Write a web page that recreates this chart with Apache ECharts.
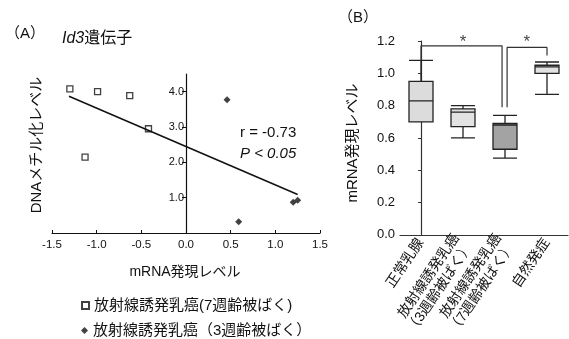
<!DOCTYPE html>
<html><head><meta charset="utf-8">
<script src="https://cdn.jsdelivr.net/npm/echarts@6/dist/echarts.min.js"></script>
<style>html,body{margin:0;padding:0;background:#fff}#c{width:569px;height:339px}</style>
</head><body><div id="c"></div>
<script>
// ---- Panel A data ----
const sq7X = [-1.30, -0.99, -0.63, -0.42, -1.13];
const sq7Y = [4.08, 4.00, 3.89, 2.95, 2.15];
const dm3X = [0.46, 0.59, 1.20, 1.25];
const dm3Y = [3.77, 0.32, 0.87, 0.93];
const fitX = [-1.31, 1.25];
const fitY = [3.87, 1.09];
const xTicksA = [-1.5, -1.0, -0.5, 0.0, 0.5, 1.0, 1.5];
const yTicksA = [1.0, 2.0, 3.0, 4.0];
const seriesNames = ['放射線誘発乳癌(7週齢被ばく)', '放射線誘発乳癌（3週齢被ばく）'];
// ---- Panel B data ----
const boxCats = ['正常乳腺', '放射線誘発乳癌\n（3週齢被ばく）', '放射線誘発乳癌\n（7週齢被ばく）', '自然発症'];
const boxMin = [0.70, 0.60, 0.475, 0.87];
const boxQ1 = [0.70, 0.67, 0.53, 1.00];
const boxMed = [0.83, 0.76, 0.68, 1.04];
const boxQ3 = [0.95, 0.78, 0.69, 1.05];
const boxMax = [1.08, 0.80, 0.74, 1.07];
const yTicksB = [0.0, 0.2, 0.4, 0.6, 0.8, 1.0, 1.2];
const bracket1X = [0, 0, 1.93, 1.93];
const bracket1Y = [1.08, 1.17, 1.17, 0.79];
const bracket2X = [2.05, 2.05, 3.0, 3.0];
const bracket2Y = [0.79, 1.16, 1.16, 1.11];
const starX = [1.0, 2.52];
const starY = [1.19, 1.19];

const FONT = "'Liberation Sans', 'Noto Sans CJK JP', sans-serif";
const boxFill = ['#dcdcdc', '#e2e2e2', '#a3a3a3', '#e2e2e2'];

const chart = echarts.init(document.getElementById('c'), null, {renderer: 'canvas'});
const zip = (a, b) => a.map((v, i) => [v, b[i]]);

const legendCommon = {
  orient: 'horizontal', left: 76, itemWidth: 7, itemHeight: 7, itemGap: 10,
  selectedMode: false, textStyle: {fontSize: 15, color: '#111', fontFamily: FONT}
};

chart.setOption({
  animation: false,
  textStyle: {fontFamily: FONT, color: '#111'},
  grid: [
    {left: 52, width: 268, top: 74, height: 159},
    {left: 400, width: 168, top: 41, height: 196}
  ],
  xAxis: [
    {gridIndex: 0, type: 'value', min: -1.5, max: 1.5, interval: 0.5,
     splitLine: {show: false},
     axisLine: {show: true, onZero: false, lineStyle: {color: '#111', width: 1.2}},
     axisTick: {show: true, inside: true, length: 3, lineStyle: {color: '#111'}},
     axisLabel: {fontSize: 11.5, color: '#111', margin: 6, fontFamily: FONT,
       formatter: v => v.toFixed(1)}},
    {gridIndex: 1, type: 'category', data: boxCats,
     axisLine: {show: true, onZero: false, lineStyle: {color: '#333', width: 1.2}},
     axisTick: {show: false},
     axisLabel: {interval: 0, rotate: 56, fontSize: 14, color: '#111', margin: 5, lineHeight: 16, fontFamily: FONT}},
    {gridIndex: 1, type: 'value', min: -0.5, max: 3.5, show: false}
  ],
  yAxis: [
    {gridIndex: 0, type: 'value', min: 0, max: 4.5, position: 'left', offset: -134,
     splitLine: {show: false},
     axisLine: {show: true, onZero: false, lineStyle: {color: '#111', width: 1.2}},
     axisTick: {show: true, length: 4, customValues: yTicksA, lineStyle: {color: '#111'}},
     axisLabel: {fontSize: 11, color: '#111', margin: 2, customValues: yTicksA, fontFamily: FONT,
       formatter: v => v.toFixed(1)}},
    {gridIndex: 1, type: 'value', min: 0, max: 1.2, interval: 0.2,
     splitLine: {show: false},
     axisLine: {show: true, lineStyle: {color: '#333', width: 1.2}},
     axisTick: {show: true, length: 3, lineStyle: {color: '#333'}},
     axisLabel: {fontSize: 13, color: '#111', margin: 5, fontFamily: FONT,
       formatter: v => v.toFixed(1)}}
  ],
  legend: [
    Object.assign({top: 293, data: [seriesNames[0]]}, legendCommon),
    Object.assign({top: 318, data: [seriesNames[1]]}, legendCommon)
  ],
  series: [
    {name: seriesNames[0], type: 'scatter', xAxisIndex: 0, yAxisIndex: 0,
     symbol: 'rect', symbolSize: 6, data: zip(sq7X, sq7Y),
     itemStyle: {color: '#fff', borderColor: '#111', borderWidth: 1.3}},
    {name: seriesNames[1], type: 'scatter', xAxisIndex: 0, yAxisIndex: 0,
     symbol: 'diamond', symbolSize: 7, data: zip(dm3X, dm3Y),
     itemStyle: {color: '#111'}},
    {name: 'fit', type: 'line', xAxisIndex: 0, yAxisIndex: 0, symbol: 'none',
     data: zip(fitX, fitY), lineStyle: {color: '#111', width: 1.5}},
    {name: 'box', type: 'boxplot', xAxisIndex: 1, yAxisIndex: 1, boxWidth: [24, 24],
     data: boxMin.map((v, i) => ({
       value: [v, boxQ1[i], boxMed[i], boxQ3[i], boxMax[i]],
       itemStyle: {color: boxFill[i], borderColor: '#222', borderWidth: 1.3}
     }))},
    {name: 'br1', type: 'line', xAxisIndex: 2, yAxisIndex: 1, symbol: 'none',
     data: zip(bracket1X, bracket1Y), lineStyle: {color: '#333', width: 1.2}},
    {name: 'br2', type: 'line', xAxisIndex: 2, yAxisIndex: 1, symbol: 'none',
     data: zip(bracket2X, bracket2Y), lineStyle: {color: '#333', width: 1.2}},
    {name: 'stars', type: 'scatter', xAxisIndex: 2, yAxisIndex: 1, symbolSize: 0,
     data: zip(starX, starY),
     label: {show: true, position: 'inside', formatter: '*', fontSize: 17, color: '#111', fontFamily: FONT}}
  ],
  graphic: [
    {type: 'text', left: 5, top: 26, style: {text: '（A）', font: "15px " + FONT, fill: '#111'}},
    {type: 'text', left: 62, top: 31, style: {
      text: '{i|Id3}遺伝子', font: "16px " + FONT, fill: '#111',
      rich: {i: {fontStyle: 'italic', fontSize: 16, fontFamily: FONT}}}},
    {type: 'text', left: 338, top: 10, style: {text: '（B）', font: "15px " + FONT, fill: '#111'}},
    {type: 'text', x: 240, y: 133, style: {text: 'r = -0.73', font: "15px " + FONT, fill: '#111', textVerticalAlign: 'middle'}},
    {type: 'text', x: 240, y: 154, style: {text: 'P < 0.05', font: "italic 15px " + FONT, fill: '#111', textVerticalAlign: 'middle'}},
    {type: 'text', x: 185, y: 272, style: {text: 'mRNA発現レベル', font: "14px " + FONT, fill: '#111', textAlign: 'center', textVerticalAlign: 'middle'}},
    {type: 'text', x: 37, y: 145, rotation: Math.PI / 2, style: {text: 'DNAメチル化レベル', font: "15px " + FONT, fill: '#111', textAlign: 'center', textVerticalAlign: 'middle'}},
    {type: 'text', x: 353, y: 143, rotation: Math.PI / 2, style: {text: 'mRNA発現レベル', font: "15px " + FONT, fill: '#111', textAlign: 'center', textVerticalAlign: 'middle'}}
  ]
});
</script></body></html>
